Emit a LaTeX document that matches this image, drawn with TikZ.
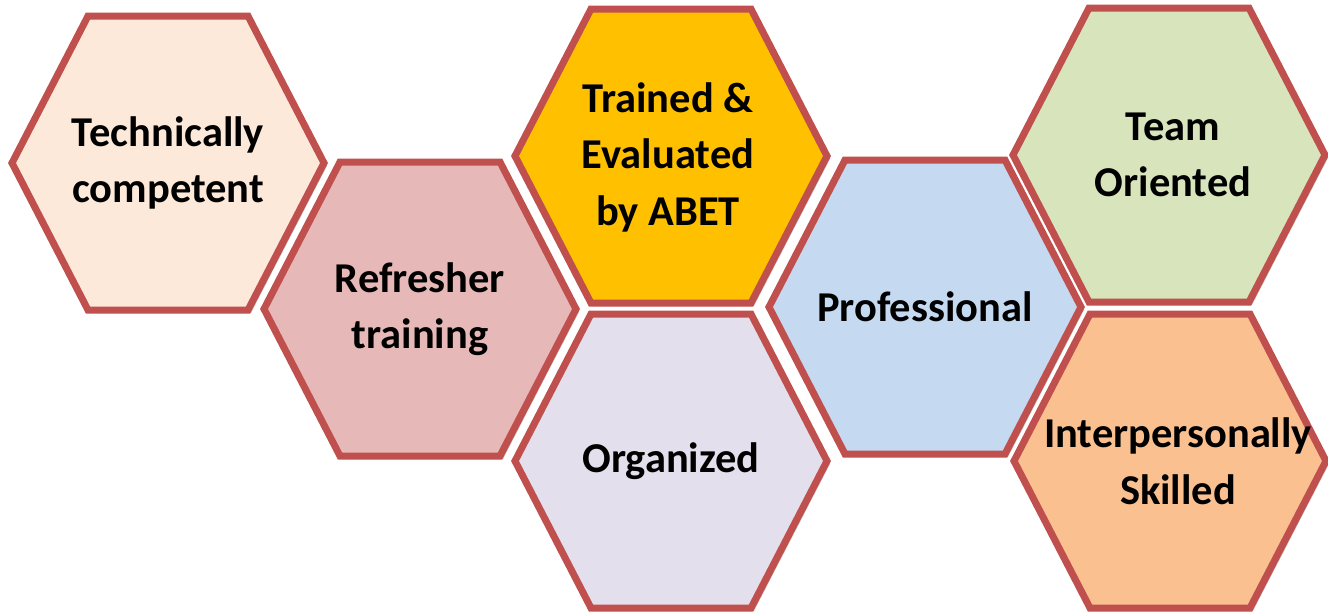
\documentclass[tikz,border=0pt]{standalone}
\usepackage{fontspec}
\setmainfont{Carlito}
\usetikzlibrary{shadows}
\definecolor{bord}{HTML}{C0504D}
\definecolor{cA}{HTML}{FDE9D9}
\definecolor{cB}{HTML}{E6B8B7}
\definecolor{cC}{HTML}{FFC000}
\definecolor{cD}{HTML}{E4DFEC}
\definecolor{cE}{HTML}{C5D9F1}
\definecolor{cF}{HTML}{D8E4BC}
\definecolor{cG}{HTML}{FAC090}
\newcommand\hexat[3]{%
  \path[hexa, fill=#3] ({#1-156},{#2}) -- ++(76,-147) -- ++(160,0) -- ++(76,147)
    -- ++(-76,147) -- ++(-160,0) -- cycle;}
\begin{document}
\begin{tikzpicture}[x=1pt,y=-1pt,
  hexa/.style={draw=bord, line width=7pt, line join=miter,
    drop shadow={opacity=0.3, shadow xshift=3pt, shadow yshift=-3pt, fill=black!70}},
  lbl/.style={font=\bfseries\fontsize{42.5}{56.5}\selectfont, align=center, text=black, inner sep=0pt}]
\useasboundingbox (0,0) rectangle (1328,614);
\hexat{168}{163}{cA}
\node[lbl] (tech) at (168,163) {Technically\\competent};
\hexat{420}{309}{cB}
\node[lbl] (refr) at (420,309) {Refresher\\training};
\hexat{671}{156}{cC}
\node[lbl] (abet) at (668,157) {Trained \&\\Evaluated\\by ABET};
\hexat{671}{461}{cD}
\node[lbl] (org) at (671,461) {Organized};
\hexat{925}{307}{cE}
\node[lbl] (prof) at (925,307) {Professional};
\hexat{1169}{155}{cF}
\node[lbl] (team) at (1173,155) {Team\\Oriented};
\hexat{1170}{461}{cG}
\node[lbl] (inter) at (1178,461) {Interpersonally\\Skilled};
\end{tikzpicture}
\end{document}
